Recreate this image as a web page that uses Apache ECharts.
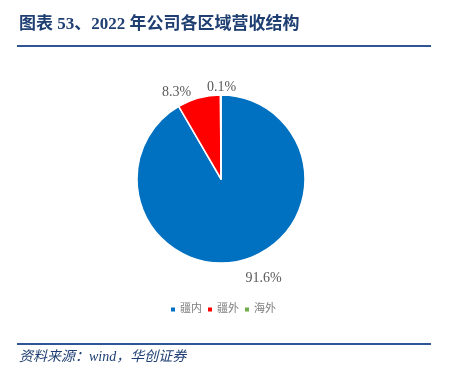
<!DOCTYPE html>
<html><head><meta charset="utf-8">
<script src="https://cdn.jsdelivr.net/npm/echarts@6/dist/echarts.min.js"></script>
<style>html,body{margin:0;padding:0;background:#fff}#c{width:453px;height:373px}</style>
</head><body><div id="c"></div>
<script>
const categories = ['疆内', '疆外', '海外'];
const values = [91.6, 8.3, 0.1];
const labels = ['91.6%', '8.3%', '0.1%'];
const colors = ['#0070C0', '#FF0000', '#70AD47'];
const labelAlign = ['left', 'right', 'center'];
const labelVAlign = ['top', 'middle', 'middle'];
const labelDx = [-5, 0, 6];
const labelDy = [2, 4, 2];

const chart = echarts.init(document.getElementById('c'));
const serif = '"Liberation Serif","Noto Sans CJK SC",serif';
chart.setOption({
  animation: false,
  color: colors,
  legend: {
    data: categories,
    bottom: 53,
    left: 166,
    icon: 'rect',
    itemWidth: 4,
    itemHeight: 4,
    itemGap: 6,
    itemStyle: { borderWidth: 0 },
    textStyle: { color: '#7F7F7F', fontSize: 11, fontFamily: serif }
  },
  graphic: [
    { type: 'text', left: 19, top: 16, style: { text: '图表 53、2022 年公司各区域营收结构', fill: '#1F3F73', font: 'bold 17px ' + serif } },
    { type: 'rect', shape: { x: 17, y: 45, width: 414, height: 2 }, style: { fill: '#2F5597' } },
    { type: 'rect', shape: { x: 17, y: 343, width: 414, height: 2 }, style: { fill: '#2F5597' } },
    { type: 'text', left: 19, top: 350, style: { text: '资料来源：wind，华创证券', fill: '#1F3F73', font: 'italic 14px ' + serif } }
  ],
  series: [{
    type: 'pie',
    center: [221, 179],
    radius: [0, 84],
    startAngle: 90,
    clockwise: true,
    avoidLabelOverlap: false,
    labelLayout: p => ({
      align: labelAlign[p.dataIndex],
      verticalAlign: labelVAlign[p.dataIndex],
      dx: labelDx[p.dataIndex],
      dy: labelDy[p.dataIndex],
      hideOverlap: false
    }),
    itemStyle: { borderColor: '#fff', borderWidth: 1.5 },
    label: {
      show: true,
      position: 'outside',
      color: '#595959',
      fontSize: 14,
      fontFamily: serif,
      formatter: p => labels[p.dataIndex]
    },
    labelLine: { show: false, length: 10, length2: 0 },
    data: categories.map((c, i) => ({ name: c, value: values[i] }))
  }]
});
</script></body></html>
